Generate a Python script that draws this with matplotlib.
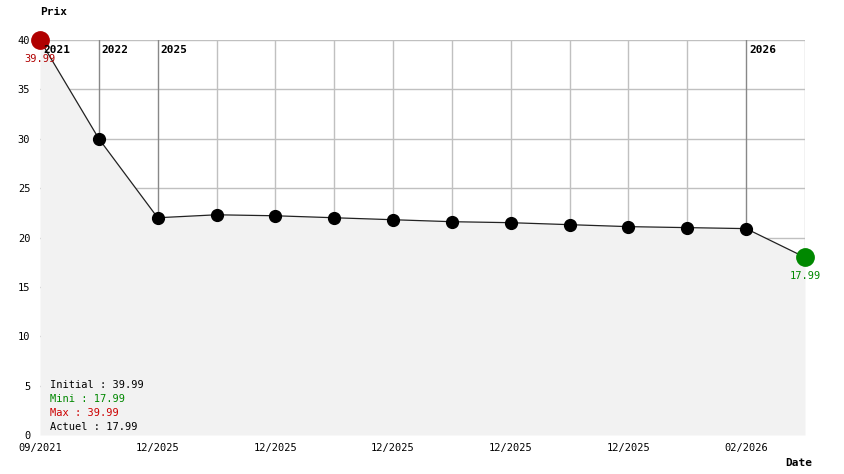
import matplotlib
matplotlib.use('Agg')
import matplotlib.pyplot as plt

prices = [39.99, 30.0, 22.0, 22.3, 22.2, 22.0, 21.8, 21.6, 21.5, 21.3, 21.1, 21.0, 20.9, 17.99]
tick_pos = [0, 2, 4, 6, 8, 10, 12]
tick_labels = ['09/2021', '12/2025', '12/2025', '12/2025', '12/2025', '12/2025', '02/2026']
year_pos = [0, 1, 2, 12]
year_labels = ['2021', '2022', '2025', '2026']
y_ticks = [0, 5, 10, 15, 20, 25, 30, 35, 40]

initial = prices[0]
mini = min(prices)
maxi = max(prices)
actuel = prices[-1]

W, H = 844, 474
fig = plt.figure(figsize=(W / 100, H / 100), dpi=100)
ax = fig.add_axes([40 / W, 39 / H, 765 / W, 395 / H])

x = list(range(len(prices)))
ax.set_xlim(0, len(prices) - 1)
ax.set_ylim(0, 40)

mono = 'DejaVu Sans Mono'

# grid
for yv in y_ticks[1:]:
    ax.axhline(yv, color='#c0c0c0', linewidth=1, zorder=0)
for xv in x[1:]:
    if xv in year_pos:
        continue
    ax.axvline(xv, color='#c0c0c0', linewidth=1, zorder=0)
for xv in year_pos[1:]:
    ax.axvline(xv, color='#888888', linewidth=1, zorder=0)

ax.fill_between(x, prices, 0, color='#f2f2f2', zorder=1, linewidth=0)
ax.plot(x, prices, color='#222222', linewidth=0.9, zorder=2)
ax.plot(x[1:-1], prices[1:-1], 'o', color='black', markersize=8.5, zorder=3)

imax = prices.index(maxi)
imin = prices.index(mini)
ax.plot(imax, maxi, 'o', color='#b00000', markersize=12.5, zorder=4, clip_on=False)
ax.plot(imin, mini, 'o', color='#008800', markersize=12.5, zorder=4, clip_on=False)
ax.text(imax, maxi - 1.95, '%.2f' % maxi, color='#b00000', fontsize=7.5, family=mono,
        ha='center', va='center', zorder=5)
ax.text(imin, mini - 1.9, '%.2f' % mini, color='#008800', fontsize=7.5, family=mono,
        ha='center', va='center', zorder=5)

for xv, lab in zip(year_pos, year_labels):
    ax.text(xv + 0.05, 39.0, lab, fontsize=8, family=mono, fontweight='bold',
            ha='left', va='center', zorder=5)

for s in ax.spines.values():
    s.set_visible(False)
ax.tick_params(length=0, labelsize=7.5)
ax.set_xticks(tick_pos)
ax.set_xticklabels(tick_labels, family=mono)
ax.set_yticks(y_ticks)
ax.set_yticklabels([str(v) for v in y_ticks], family=mono)
ax.tick_params(axis='x', pad=6)
ax.tick_params(axis='y', pad=7)

fig.text(40 / W, 1 - 12 / H, 'Prix', fontsize=8, family=mono, fontweight='bold',
         ha='left', va='center')
fig.text(812 / W, 1 - 463 / H, 'Date', fontsize=8, family=mono, fontweight='bold',
         ha='right', va='center')

stats = [('Initial : %.2f' % initial, 'black'),
         ('Mini : %.2f' % mini, '#008800'),
         ('Max : %.2f' % maxi, '#cc0000'),
         ('Actuel : %.2f' % actuel, 'black')]
for i, (t, c) in enumerate(stats):
    fig.text(50 / W, 1 - (385 + 14 * i) / H, t, fontsize=7.5, family=mono, color=c,
             ha='left', va='center')

fig.savefig('out.png', dpi=100)
